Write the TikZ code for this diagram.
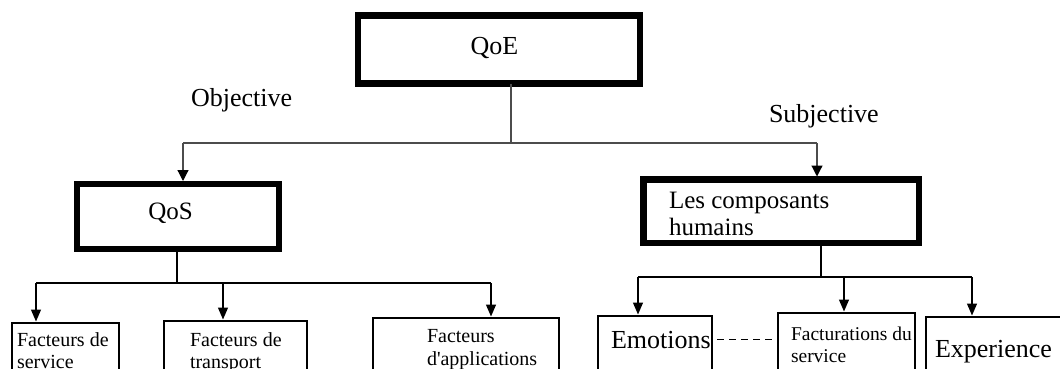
\documentclass[tikz,border=0pt]{standalone}
\usepackage{fontspec}
\setmainfont{Liberation Serif}
\usetikzlibrary{arrows.meta}
\begin{document}
\begin{tikzpicture}[x=1pt,y=-1pt,
  thickbox/.style={draw=black,line width=6.5pt,inner sep=0pt,outer sep=0pt,anchor=north west},
  thinbox/.style={draw=black,line width=1.2pt,inner sep=0pt,outer sep=0pt,anchor=north west,minimum height=90pt},
  lbl/.style={inner sep=0pt,outer sep=0pt,text=black},
  big/.style={font=\fontsize{26}{28}\selectfont},
  mid/.style={font=\fontsize{25}{27}\selectfont},
  small/.style={font=\fontsize{20}{22}\selectfont},
  smaller/.style={font=\fontsize{19.5}{22}\selectfont},
  conn/.style={draw=black!70,line width=1.2pt},
  conntwo/.style={draw=black,line width=1.3pt},
  arr/.style={conn,-{Triangle[width=11pt,length=11pt,color=black]},shorten >=3pt},
  arrtwo/.style={conntwo,-{Triangle[width=10pt,length=12pt]},shorten >=1.5pt},
  dashline/.style={draw=black,line width=1pt,dash pattern=on 7pt off 5pt},
]
\useasboundingbox (0,0) rectangle (1060,369);
\clip (0,0) rectangle (1060,369);
\fill[white] (0,0) rectangle (1060,369);

% top level
\node[thickbox,minimum width=282pt,minimum height=68pt] (qoe) at (358,15.5) {};
\node[lbl,big,anchor=base] (tqoe) at (494.5,55) {QoE};
\node[lbl,big,anchor=base west] (obj) at (191,106) {Objective};
\node[lbl,big,anchor=base west] (subj) at (769,122) {Subjective};

% second level
\node[thickbox,line width=6pt,minimum width=202.5pt,minimum height=64.5pt] (qos) at (76.5,184) {};
\node[lbl,mid,anchor=base] (tqos) at (170.5,219) {QoS};
\node[thickbox,minimum width=275.5pt,minimum height=63.5pt] (hum) at (643.5,179.5) {};
\node[lbl,mid,anchor=base west] (thumone) at (669,208) {Les composants};
\node[lbl,mid,anchor=base west] (thumtwo) at (669,235) {humains};

% connectors top
\coordinate (j0) at (511,143);
\coordinate (jl) at (183,143);
\coordinate (jr) at (817,143);
\draw[conn] (j0 |- qoe.south) -- (j0);
\draw[conn] (jl) -- (jr);
\draw[arr] (jl) -- (jl |- qos.north);
\draw[arr] (jr) -- (jr |- hum.north);

% third level boxes
\node[thinbox,minimum width=107pt] (fs) at (12,323) {};
\node[thinbox,minimum width=143pt] (ft) at (164,321) {};
\node[thinbox,minimum width=186pt] (fa) at (373,318) {};
\node[thinbox,minimum width=114pt] (emo) at (598,316) {};
\node[thinbox,minimum width=137pt] (fac) at (778,313) {};
\node[thinbox,minimum width=150pt] (expe) at (926,317) {};

\node[lbl,small,anchor=base west] (tfsone) at (17,346) {Facteurs de};
\node[lbl,small,anchor=base west] (tfstwo) at (17,368) {service};
\node[lbl,small,anchor=base west] (tftone) at (190,346) {Facteurs de};
\node[lbl,small,anchor=base west] (tfttwo) at (190,368) {transport};
\node[lbl,small,anchor=base west] (tfaone) at (427,342) {Facteurs};
\node[lbl,small,anchor=base west] (tfatwo) at (427,365) {d\textquotesingle applications};
\node[lbl,big,anchor=base west] (temo) at (611,348) {Emotions};
\node[lbl,smaller,anchor=base west] (tfacone) at (791,340) {Facturations du};
\node[lbl,smaller,anchor=base west] (tfactwo) at (791,362) {service};
\node[lbl,big,anchor=base west] (texpe) at (935,357) {Experience};

% connectors left subtree
\coordinate (k0) at (177,283);
\coordinate (k1) at (36,283);
\coordinate (k2) at (223,283);
\coordinate (k3) at (491,283);
\draw[conntwo] (k0 |- qos.south) -- (k0);
\draw[conntwo] (k1) -- (k3);
\draw[arrtwo] (k1) -- (k1 |- fs.north);
\draw[arrtwo] (k2) -- (k2 |- ft.north);
\draw[arrtwo] (k3) -- (k3 |- fa.north);

% connectors right subtree
\coordinate (m0) at (821,277);
\coordinate (m1) at (638,277);
\coordinate (m2) at (844,277);
\coordinate (m3) at (972,277);
\draw[conntwo] (m0 |- hum.south) -- (m0);
\draw[conntwo] (m1) -- (m3);
\draw[arrtwo] (m1) -- (m1 |- emo.north);
\draw[arrtwo] (m2) -- (m2 |- fac.north);
\draw[arrtwo] (m3) -- (m3 |- expe.north);

% dashed link
\coordinate (dy) at (0,339);
\draw[dashline,shorten <=5pt,shorten >=6pt] (emo.east |- dy) -- (fac.west |- dy);
\end{tikzpicture}
\end{document}
